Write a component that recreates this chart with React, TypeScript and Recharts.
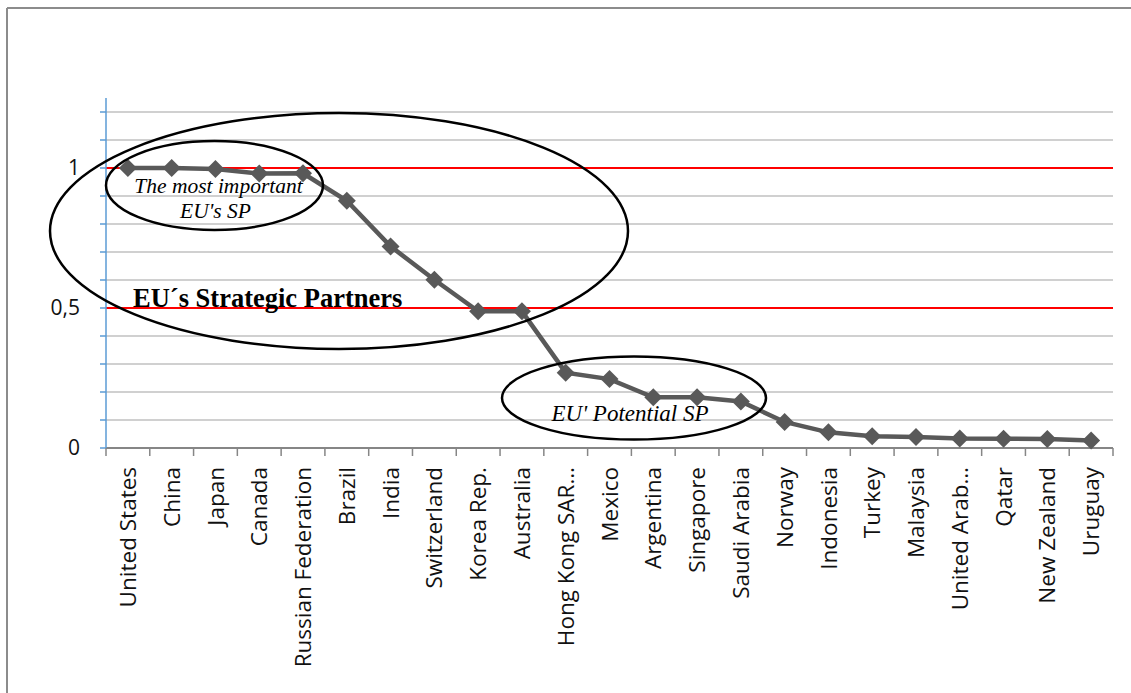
import React from "react";
import {
  LineChart,
  Line,
  XAxis,
  YAxis,
  CartesianGrid,
  ReferenceLine,
} from "recharts";

const countries = [
  "United States",
  "China",
  "Japan",
  "Canada",
  "Russian Federation",
  "Brazil",
  "India",
  "Switzerland",
  "Korea Rep.",
  "Australia",
  "Hong Kong SAR…",
  "Mexico",
  "Argentina",
  "Singapore",
  "Saudi Arabia",
  "Norway",
  "Indonesia",
  "Turkey",
  "Malaysia",
  "United Arab…",
  "Qatar",
  "New Zealand",
  "Uruguay",
];

const scores = [
  1.0, 1.0, 0.996, 0.98, 0.981, 0.883, 0.72, 0.601, 0.488, 0.488, 0.269,
  0.246, 0.181, 0.181, 0.166, 0.093, 0.056, 0.042, 0.039, 0.034, 0.033, 0.032,
  0.027,
];

const yTicks = [0, 0.1, 0.2, 0.3, 0.4, 0.5, 0.6, 0.7, 0.8, 0.9, 1, 1.1, 1.2];
const yLabelValues = [0, 0.5, 1];
const yLabelTexts = ["0", "0,5", "1"];
const redLines = [0.5, 1];

const W = 1131;
const H = 693;
const MARGIN = { top: 98, right: 18, bottom: 45, left: 46 };
const Y_AXIS_W = 60;
const X_AXIS_H = 200;
const PLOT_W = W - MARGIN.left - MARGIN.right - Y_AXIS_W;
const BAND = PLOT_W / countries.length;

const data = countries.map((name, i) => ({ name, score: scores[i] }));

const labelFont = "'Open Sans', sans-serif";

const CountryTick = (props: any) => {
  const { x, y, payload, index } = props;
  const left = x - BAND / 2;
  return (
    <g>
      <line x1={left} x2={left} y1={y} y2={y + 8} stroke="#868686" strokeWidth={1.5} />
      {index === countries.length - 1 && (
        <line x1={x + BAND / 2} x2={x + BAND / 2} y1={y} y2={y + 8} stroke="#868686" strokeWidth={1.5} />
      )}
      <text
        x={x}
        y={y + 19}
        transform={`rotate(-90 ${x} ${y + 19})`}
        textAnchor="end"
        dy="0.36em"
        fontFamily={labelFont}
        fontSize={22.5}
        fill="#111"
      >
        {payload.value}
      </text>
    </g>
  );
};

const Diamond = (props: any) => {
  const { cx, cy } = props;
  if (cx == null || cy == null) return null;
  const r = 9;
  return (
    <polygon
      points={`${cx},${cy - r} ${cx + r},${cy} ${cx},${cy + r} ${cx - r},${cy}`}
      fill="#595959"
    />
  );
};

const formatY = (v: number) => {
  const i = yLabelValues.indexOf(v);
  return i >= 0 ? yLabelTexts[i] : "";
};

export default function App() {
  return (
    <div style={{ position: "absolute", left: 0, top: 0, width: W, height: H, background: "#fff" }}>
      <LineChart width={W} height={H} data={data} margin={MARGIN}>
        <CartesianGrid
          vertical={false}
          horizontalValues={yTicks}
          stroke="#c0c0c0"
          strokeWidth={1.5}
        />
        {redLines.map((v) => (
          <ReferenceLine key={v} y={v} stroke="#ff0000" strokeWidth={2} />
        ))}
        <XAxis
          dataKey="name"
          height={X_AXIS_H}
          interval={0}
          padding={{ left: BAND / 2, right: BAND / 2 }}
          tickLine={false}
          tickSize={0}
          tickMargin={0}
          axisLine={{ stroke: "#868686", strokeWidth: 2 }}
          tick={<CountryTick />}
        />
        <YAxis
          width={Y_AXIS_W}
          domain={[0, 1.25]}
          ticks={yTicks}
          interval={0}
          tickFormatter={formatY}
          tickSize={6}
          tickMargin={20}
          axisLine={{ stroke: "#5b9bd5", strokeWidth: 1.5 }}
          tickLine={{ stroke: "#5b9bd5", strokeWidth: 1.5 }}
          tick={{ fontFamily: labelFont, fontSize: 21, fill: "#111" }}
        />
        <Line
          type="linear"
          dataKey="score"
          stroke="#595959"
          strokeWidth={4.5}
          dot={<Diamond />}
          activeDot={false}
          isAnimationActive={false}
        />
      </LineChart>
      <svg
        width={W}
        height={H}
        style={{ position: "absolute", left: 0, top: 0, pointerEvents: "none" }}
      >
        {/* page frame */}
        <line x1={7} y1={8} x2={7} y2={H} stroke="#8c8c8c" strokeWidth={2} />
        <line x1={7} y1={8} x2={W} y2={8} stroke="#8c8c8c" strokeWidth={2} />

        <ellipse cx={339} cy={231} rx={289} ry={118} fill="none" stroke="#000" strokeWidth={2.5} />
        <ellipse cx={214.5} cy={185.5} rx={108.5} ry={44.5} fill="none" stroke="#000" strokeWidth={2.5} />
        <ellipse cx={634} cy={398} rx={132} ry={41.5} fill="none" stroke="#000" strokeWidth={2.5} />

        <g fontFamily="'Liberation Serif', serif" fontStyle="italic" fill="#000" textAnchor="middle">
          <text x={218.5} y={193} fontSize={21.5}>The most important</text>
          <text x={215.5} y={218} fontSize={21.5}>EU's SP</text>
          <text x={630} y={421} fontSize={23}>EU' Potential SP</text>
        </g>
        <text x={133} y={307} fontFamily="'Liberation Serif', serif" fontWeight="bold" fontSize={26.5} fill="#000">
          EU´s Strategic Partners
        </text>
      </svg>
    </div>
  );
}
